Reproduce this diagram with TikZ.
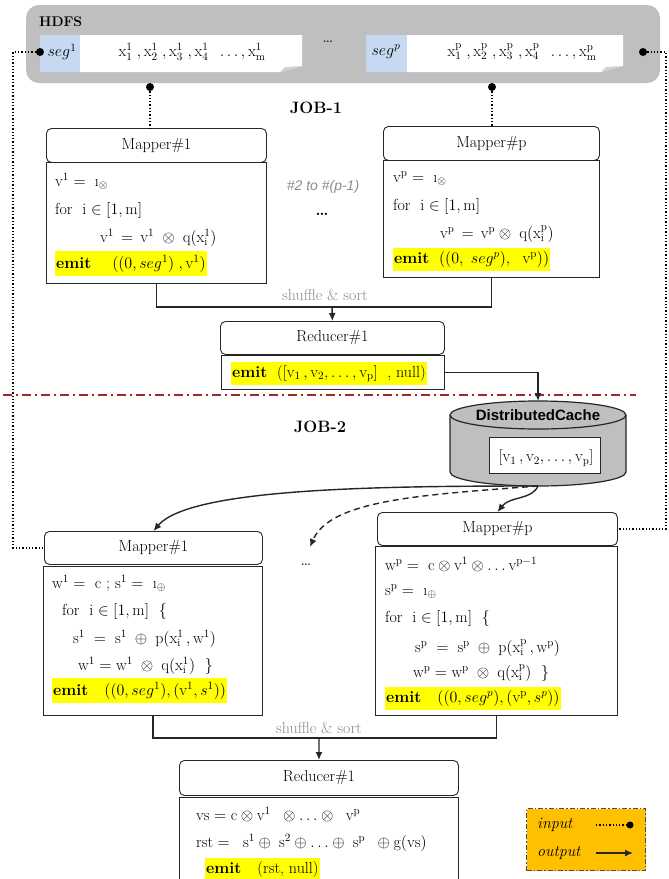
\RequirePackage{fix-cm}
\documentclass[tikz,border=0pt]{standalone}
\usepackage{fontspec}
\newfontfamily\arial{Liberation Sans}
\usetikzlibrary{arrows.meta}
\newcommand\fsz[1]{\fontsize{#1}{#1}\selectfont}
\newcommand\rmv[1]{\mathrm{#1}}
\definecolor{hdfsgray}{HTML}{BFBFBF}
\definecolor{segblue}{HTML}{C6D9F1}
\definecolor{hlyellow}{HTML}{FFFF00}
\definecolor{legorange}{HTML}{FFC000}
\definecolor{divred}{HTML}{A3282C}
\definecolor{softgray}{HTML}{8C8C8C}
\tikzset{
  hdr/.style={draw=black!85, line width=0.9pt, rounded corners=5pt, fill=white,
    anchor=north west, inner sep=0pt, font=\fsz{16}},
  bodybox/.style={draw=black!85, line width=0.9pt, fill=white, anchor=north west, inner sep=0pt},
  ln/.style={anchor=base west, inner sep=0pt, font=\fsz{16}},
  hl/.style={ln, fill=hlyellow, inner xsep=1pt, inner ysep=3.5pt},
  flow/.style={draw=black!85, line width=1.4pt},
  arr/.style={flow, -{Latex[length=8pt,width=7pt]}},
  inlink/.style={draw=black, line width=1.3pt, dotted},
  pin/.style={circle, fill=black, inner sep=0pt, minimum size=8pt},
  seglabel/.style={inner sep=0pt, font=\fsz{16}},
  grey/.style={inner sep=0pt, text=softgray, font=\fsz{16}},
  jobtitle/.style={inner sep=0pt, font=\fsz{16.5}\bfseries},
}
\begin{document}
\begin{tikzpicture}[x=1pt,y=-1pt]
\useasboundingbox (0,0) rectangle (669,879);

% ---------------- HDFS store ----------------
\fill[hdfsgray, rounded corners=13pt] (26,5) rectangle (660,83);
\node[anchor=west, inner sep=0pt, font=\fsz{14}\bfseries] (hdfs) at (39,22) {HDFS};
% first segment
\fill[segblue] (40,35) rectangle (80,72);
\fill[white] (80,35) -- (302,35) -- (302,66) -- (280,72) -- (80,72) -- cycle;
\fill[black!18] (280,72) -- (285,67) -- (302,66) -- cycle;
\node[seglabel] (seg1) at (62,52) {$seg^1$};
\node[seglabel] (xs1) at (192,52)
  {$\rmv{x}_1^1\;,\rmv{x}_2^1\;,\rmv{x}_3^1\;,\rmv{x}_4^1\;\;\dots,\rmv{x}_\rmv{m}^1$};
\node[inner sep=0pt, font=\fsz{19}] (hdots) at (328,42) {\dots};
% last segment
\fill[segblue] (366,35) rectangle (407,72);
\fill[white] (407,35) -- (623,35) -- (623,66) -- (601,72) -- (407,72) -- cycle;
\fill[black!18] (601,72) -- (606,67) -- (623,66) -- cycle;
\node[seglabel] (segp) at (386,52) {$seg^p$};
\node[seglabel] (xsp) at (522,52)
  {$\rmv{x}_1^\rmv{p}\;,\rmv{x}_2^\rmv{p}\;,\rmv{x}_3^\rmv{p}\;,\rmv{x}_4^\rmv{p}\;\;\dots,\rmv{x}_\rmv{m}^\rmv{p}$};
% input pins
\node[pin] (pinL) at (40,52) {};
\node[pin] (pinR) at (643,52) {};
\node[pin] (pin1) at (150,87) {};
\node[pin] (pinP) at (492,87) {};

\node[jobtitle] (job1) at (316,108) {JOB-1};

% ---------------- JOB-1 mappers ----------------
\node[hdr, minimum width=220pt, minimum height=34pt] (m1h) at (46,128) {Mapper\#1};
\node[bodybox, minimum width=220pt, minimum height=121pt] (m1b) at (46,162) {};
\node[ln] (m1l1) at (55,186) {$\rmv{v}^1 =\;$ \i$_{\otimes}$};
\node[ln] (m1l2) at (55,214) {for\ \ i $\in[1,\rmv{m}]$};
\node[ln] (m1l3) at (100,242) {$\rmv{v}^1 \,=\, \rmv{v}^1 \;\otimes\; \rmv{q}(\rmv{x}_\rmv{i}^1)$};
\node[hl] (m1l4) at (55,268) {\textbf{emit}\quad\ $((0,seg^1)\;,\rmv{v}^1)$};

\node[hdr, minimum width=216pt, minimum height=34pt] (mph) at (383,126) {Mapper\#p};
\node[bodybox, minimum width=216pt, minimum height=117pt] (mpb) at (383,160) {};
\node[ln] (mpl1) at (393,182) {$\rmv{v}^\rmv{p} =\;$ \i$_{\otimes}$};
\node[ln] (mpl2) at (393,210) {for\ \ i $\in[1,\rmv{m}]$};
\node[ln] (mpl3) at (440,238) {$\rmv{v}^\rmv{p} \,=\, \rmv{v}^\rmv{p} \otimes\; \rmv{q}(\rmv{x}_\rmv{i}^\rmv{p})$};
\node[hl] (mpl4) at (393,263) {\textbf{emit}\ \ $((0,\ seg^p),\ \ \rmv{v}^\rmv{p}))$};

\node[inner sep=0pt, text=softgray, font=\fsz{14}\arial\itshape] (mid1) at (323,187) {\#2 to \#(p-1)};
\node[inner sep=0pt, font=\fsz{16}\bfseries] (dots1) at (322,214) {\dots};

\draw[inlink] (pin1) -- (pin1 |- m1h.north);
\draw[inlink] (pinP) -- (pinP |- mph.north);

% shuffle into the JOB-1 reducer
\coordinate (sh1) at (332,307);
\draw[flow] (m1b.south) |- (sh1) -| (mpb.south);
\node[grey] (sh1txt) at (325,295) {shuffle \& sort};
\node[hdr, minimum width=224pt, minimum height=33pt] (r1h) at (220,321) {Reducer\#1};
\node[bodybox, minimum width=223pt, minimum height=34pt] (r1b) at (221,355) {};
\node[hl] (r1l1) at (231,377)
  {\textbf{emit}\ \ ([$\rmv{v}_1\,,\rmv{v}_2,\dots,\rmv{v}_\rmv{p}$]\ \ , null)};
\draw[arr] (sh1) -- (r1h.north);

% ---------------- job divider ----------------
\draw[divred, line width=1.8pt, dash pattern=on 9pt off 4pt on 2pt off 4pt] (3,395) -- (636,395);
\node[jobtitle] (job2) at (320,427) {JOB-2};

% ---------------- distributed cache ----------------
\fill[hdfsgray] (450,415) -- (450,472)
  arc[start angle=180, end angle=360, x radius=88pt, y radius=14pt]
  -- (626,415) arc[start angle=0, end angle=180, x radius=88pt, y radius=14pt] -- cycle;
\draw[black!85, line width=1.2pt] (450,415) -- (450,472)
  arc[start angle=180, end angle=360, x radius=88pt, y radius=14pt]
  -- (626,415) arc[start angle=0, end angle=180, x radius=88pt, y radius=14pt] -- cycle;
\draw[black!85, line width=1.2pt] (450,415)
  arc[start angle=180, end angle=360, x radius=88pt, y radius=14pt];
\node[inner sep=0pt, font=\fsz{15}\arial\bfseries] (cache) at (538,415) {DistributedCache};
\node[draw=black!85, line width=0.9pt, fill=white, anchor=north west, inner sep=0pt,
  minimum width=111pt, minimum height=36pt] (cachebox) at (489,437) {};
\node[seglabel] (cacheval) at (546,458) {[$\rmv{v}_1\,,\rmv{v}_2,\dots,\rmv{v}_\rmv{p}$]};
\coordinate (cachetop) at (538,401);
\coordinate (cachebot) at (538,486);
\draw[arr] (r1b.east) -| (cachetop);

% ---------------- JOB-2 mappers ----------------
\node[hdr, minimum width=218pt, minimum height=33pt] (m2h) at (44,531) {Mapper\#1};
\node[bodybox, minimum width=219pt, minimum height=149pt] (m2b) at (43,566) {};
\node[ln] (m2l1) at (52,588) {$\rmv{w}^1 =\;$ c ; $\rmv{s}^1 =\;$ \i$_{\oplus}$};
\node[ln] (m2l2) at (62,615) {for\ \ i $\in[1,\rmv{m}]$\ \ \{};
\node[ln] (m2l3) at (73,643) {$\rmv{s}^1 \;=\; \rmv{s}^1 \;\oplus\; \rmv{p}(\rmv{x}_\rmv{i}^1\,,\rmv{w}^1)$};
\node[ln] (m2l4) at (78,670) {$\rmv{w}^1 = \rmv{w}^1 \;\otimes\; \rmv{q}(\rmv{x}_\rmv{i}^1)$\ \ \}};
\node[hl] (m2l5) at (52,695) {\textbf{emit}\quad$((0,seg^1),(\rmv{v}^1,s^1))$};

\node[inner sep=0pt, font=\fsz{19}] (dots2) at (306,565) {\dots};

\node[hdr, minimum width=240pt, minimum height=33pt] (mqh) at (377,512) {Mapper\#p};
\node[bodybox, minimum width=242pt, minimum height=169pt] (mqb) at (375,546) {};
\node[ln] (mql1) at (385,570) {$\rmv{w}^\rmv{p} =\; \rmv{c}\otimes\rmv{v}^1\otimes\dots\rmv{v}^{\rmv{p}-1}$};
\node[ln] (mql2) at (385,595) {$\rmv{s}^\rmv{p} =\;$ \i$_{\oplus}$};
\node[ln] (mql3) at (385,622) {for\ \ i $\in[1,\rmv{m}]$\ \ \{};
\node[ln] (mql4) at (415,652) {$\rmv{s}^\rmv{p} \;=\; \rmv{s}^\rmv{p} \;\oplus\; \rmv{p}(\rmv{x}_\rmv{i}^\rmv{p}\,,\rmv{w}^\rmv{p})$};
\node[ln] (mql5) at (413,677) {$\rmv{w}^\rmv{p} = \rmv{w}^\rmv{p} \;\otimes\; \rmv{q}(\rmv{x}_\rmv{i}^\rmv{p})$\ \ \}};
\node[hl] (mql6) at (385,702) {\textbf{emit}\quad$((0,seg^p),(\rmv{v}^\rmv{p},s^p))$};

% cache feeds every JOB-2 mapper
\coordinate (dashend) at (310,547);
\draw[arr] (cachebot) .. controls (380,486) and (190,488) .. (m2h.north);
\draw[arr] (cachebot) .. controls (532,500) and (510,496) .. (mqh.north);
\draw[arr, dash pattern=on 6pt off 4pt] (cachebot) .. controls (420,495) and (330,500) .. (dashend);

% HDFS segments feed the JOB-2 mappers
\draw[inlink] (pinL) -- (13,52) |- (m2h.west);
\draw[inlink] (pinR) -- (666,52) |- (mqh.east);

% shuffle into the JOB-2 reducer
\coordinate (sh2) at (319,738);
\draw[flow] (m2b.south) |- (sh2) -| (mqb.south);
\node[grey] (sh2txt) at (319,728) {shuffle \& sort};
\node[hdr, minimum width=279pt, minimum height=35pt] (r2h) at (179,760) {Reducer\#1};
\node[bodybox, minimum width=279pt, minimum height=90pt] (r2b) at (179,797) {};
\node[ln] (r2l1) at (196,820) {$\rmv{vs} = \rmv{c}\otimes\rmv{v}^1\;\;\otimes\dots\otimes\;\;\rmv{v}^\rmv{p}$};
\node[ln] (r2l2) at (196,847) {$\rmv{rst} =\;\;\rmv{s}^1\oplus\;\rmv{s}^2\oplus\dots\oplus\;\rmv{s}^\rmv{p}\;\;\oplus\rmv{g}(\rmv{vs})$};
\node[hl] (r2l3) at (205,873) {\textbf{emit}\quad(rst,\ null)};
\draw[arr] (sh2) -- (r2h.north);

% ---------------- legend ----------------
\node[draw=black!70, line width=1pt, dash pattern=on 5pt off 2pt on 1.5pt off 2pt,
  fill=legorange, anchor=north west, inner sep=0pt,
  minimum width=119pt, minimum height=62pt] (legend) at (526,808) {};
\node[anchor=west, inner sep=0pt, font=\fsz{16}\itshape] (leginput) at (537,825) {input};
\node[anchor=west, inner sep=0pt, font=\fsz{16}\itshape] (legoutput) at (537,853) {output};
\coordinate (legin0) at (596,825);
\node[pin, minimum size=7pt] (legpin) at (630,825) {};
\draw[inlink, line width=1.2pt] (legin0) -- (legpin);
\coordinate (legout0) at (596,853);
\coordinate (legout1) at (633,853);
\draw[arr, line width=1.3pt] (legout0) -- (legout1);
\end{tikzpicture}
\end{document}
